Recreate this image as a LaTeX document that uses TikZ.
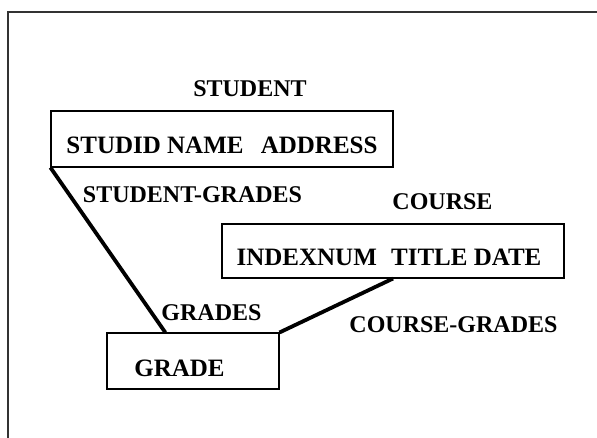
\documentclass[tikz,border=0pt]{standalone}
\usepackage{fontspec}
\setmainfont{Liberation Serif}
\usetikzlibrary{positioning,calc}
\tikzset{>=stealth}
\tikzset{lbl/.style={font=\fontsize{24}{28}\selectfont\bfseries,inner sep=0pt},
  rowlbl/.style={lbl,font=\fontsize{25}{30}\selectfont\bfseries},
  tbl/.style={draw,line width=1.1pt,inner sep=0pt},
  link/.style={line width=3.8pt}}

\begin{document}
\begin{tikzpicture}[x=1pt,y=-1pt]
\useasboundingbox (0,0) rectangle (597,438);
\draw[line width=2pt,black!80] (8,438) -- (8,12) -- (597,12);
\node[tbl,minimum width=342pt,minimum height=56pt] (student) at (222,139) {};
\node[tbl,minimum width=342pt,minimum height=54pt] (course) at (393,251) {};
\node[tbl,minimum width=172pt,minimum height=56pt] (grade) at (193,361) {};
\node[lbl] (studentname) at (250,89) {STUDENT};
\node[rowlbl] (studentrow) at (222,145) {STUDID NAME\hspace{11pt} ADDRESS};
\node[lbl] (coursename) at (442.5,202) {COURSE};
\node[rowlbl] (courserow) at (389,257) {INDEXNUM\hspace{8pt} TITLE DATE};
\node[lbl] (gradename) at (211.5,313) {GRADES};
\node[rowlbl] (graderow) at (179.5,368) {GRADE};
\node[lbl] (sg) at (192.5,195) {STUDENT-GRADES};
\node[lbl] (cg) at (453.5,325) {COURSE-GRADES};
\draw[link] (student.south west) -- ($(grade.north west)!0.34!(grade.north east)$);
\draw[link] (course.south) -- (grade.north east);
\end{tikzpicture}
\end{document}
